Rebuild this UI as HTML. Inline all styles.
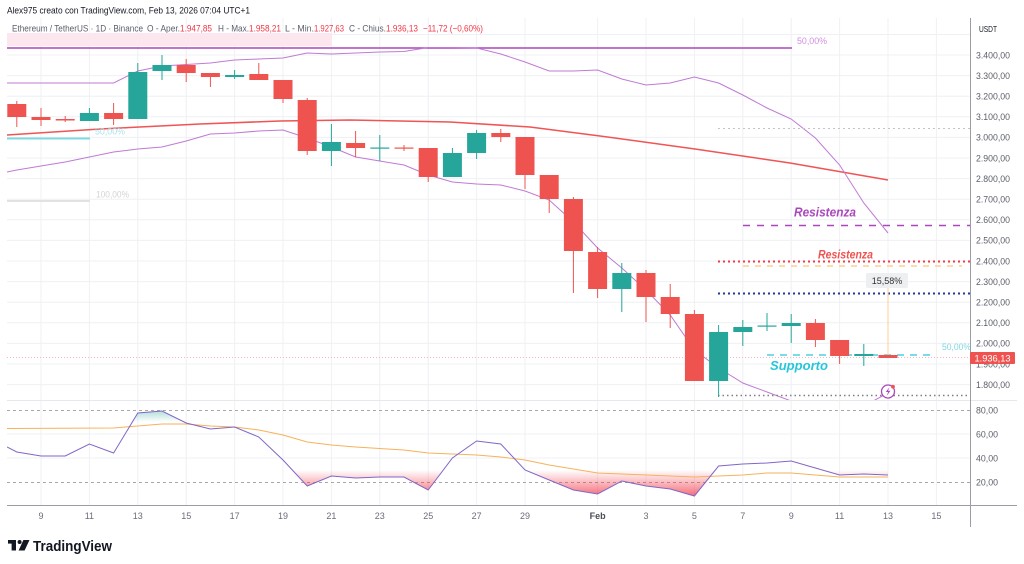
<!DOCTYPE html>
<html><head><meta charset="utf-8"><style>
html,body{margin:0;padding:0;background:#fff;}
svg{display:block;font-family:"Liberation Sans",Arial,sans-serif;}
</style></head><body>
<svg width="1024" height="564" viewBox="0 0 1024 564" xmlns="http://www.w3.org/2000/svg">
<defs>
<clipPath id="pp"><rect x="7" y="18" width="963" height="382"/></clipPath>
<clipPath id="rp"><rect x="7" y="401" width="963" height="104"/></clipPath>
<clipPath id="low"><rect x="7" y="470" width="963" height="36"/></clipPath>
<clipPath id="high"><rect x="7" y="380" width="963" height="42"/></clipPath>
<linearGradient id="gr" gradientUnits="userSpaceOnUse" x1="0" y1="470" x2="0" y2="506"><stop offset="0" stop-color="#f23645" stop-opacity="0"/><stop offset="1" stop-color="#f23645" stop-opacity="1"/></linearGradient>
<linearGradient id="gg" gradientUnits="userSpaceOnUse" x1="0" y1="422" x2="0" y2="386"><stop offset="0" stop-color="#089981" stop-opacity="0"/><stop offset="1" stop-color="#089981" stop-opacity="1"/></linearGradient>
</defs>
<rect width="1024" height="564" fill="#fff"/>

<!-- grid -->
<g stroke="#eef0f4" stroke-width="1">
<line x1="7" x2="970" y1="34.5" y2="34.5"/>
<line x1="7" x2="970" y1="55" y2="55"/><line x1="7" x2="970" y1="75.6" y2="75.6"/><line x1="7" x2="970" y1="96.2" y2="96.2"/><line x1="7" x2="970" y1="116.8" y2="116.8"/><line x1="7" x2="970" y1="137.4" y2="137.4"/><line x1="7" x2="970" y1="158" y2="158"/><line x1="7" x2="970" y1="178.6" y2="178.6"/><line x1="7" x2="970" y1="199.2" y2="199.2"/><line x1="7" x2="970" y1="219.8" y2="219.8"/><line x1="7" x2="970" y1="240.4" y2="240.4"/><line x1="7" x2="970" y1="261" y2="261"/><line x1="7" x2="970" y1="281.6" y2="281.6"/><line x1="7" x2="970" y1="302.2" y2="302.2"/><line x1="7" x2="970" y1="322.8" y2="322.8"/><line x1="7" x2="970" y1="343.4" y2="343.4"/><line x1="7" x2="970" y1="364" y2="364"/><line x1="7" x2="970" y1="384.6" y2="384.6"/>
<line x1="7" x2="970" y1="434" y2="434"/><line x1="7" x2="970" y1="458" y2="458"/>
<line x1="41" x2="41" y1="18" y2="505"/><line x1="89.4" x2="89.4" y1="18" y2="505"/><line x1="137.8" x2="137.8" y1="18" y2="505"/><line x1="186.2" x2="186.2" y1="18" y2="505"/><line x1="234.6" x2="234.6" y1="18" y2="505"/><line x1="283" x2="283" y1="18" y2="505"/><line x1="331.4" x2="331.4" y1="18" y2="505"/><line x1="379.8" x2="379.8" y1="18" y2="505"/><line x1="428.2" x2="428.2" y1="18" y2="505"/><line x1="476.6" x2="476.6" y1="18" y2="505"/><line x1="525" x2="525" y1="18" y2="505"/><line x1="597.6" x2="597.6" y1="18" y2="505"/><line x1="646" x2="646" y1="18" y2="505"/><line x1="694.4" x2="694.4" y1="18" y2="505"/><line x1="742.8" x2="742.8" y1="18" y2="505"/><line x1="791.2" x2="791.2" y1="18" y2="505"/><line x1="839.6" x2="839.6" y1="18" y2="505"/><line x1="888" x2="888" y1="18" y2="505"/><line x1="936.4" x2="936.4" y1="18" y2="505"/>
</g>
<line x1="7" x2="1017" y1="400.5" y2="400.5" stroke="#e6e8ee" stroke-width="1"/>

<!-- header -->
<text x="7" y="13.5" font-size="9" fill="#131722" textLength="243" lengthAdjust="spacingAndGlyphs">Alex975 creato con TradingView.com, Feb 13, 2026 07:04 UTC+1</text>
<g font-size="8.8" lengthAdjust="spacingAndGlyphs">
<text x="12" y="31.5" fill="#5d606b" textLength="131" lengthAdjust="spacingAndGlyphs">Ethereum / TetherUS · 1D · Binance</text>
<text x="147" y="31.5" fill="#5d606b" textLength="33" lengthAdjust="spacingAndGlyphs">O - Aper.</text>
<text x="180" y="31.5" fill="#f23645" textLength="32" lengthAdjust="spacingAndGlyphs">1.947,85</text>
<text x="218" y="31.5" fill="#5d606b" textLength="31" lengthAdjust="spacingAndGlyphs">H - Max.</text>
<text x="249" y="31.5" fill="#f23645" textLength="32" lengthAdjust="spacingAndGlyphs">1.958,21</text>
<text x="285" y="31.5" fill="#5d606b" textLength="29" lengthAdjust="spacingAndGlyphs">L - Min.</text>
<text x="314" y="31.5" fill="#f23645" textLength="30" lengthAdjust="spacingAndGlyphs">1.927,63</text>
<text x="349" y="31.5" fill="#5d606b" textLength="37" lengthAdjust="spacingAndGlyphs">C - Chius.</text>
<text x="386" y="31.5" fill="#f23645" textLength="32" lengthAdjust="spacingAndGlyphs">1.936,13</text>
<text x="423" y="31.5" fill="#f23645" textLength="60" lengthAdjust="spacingAndGlyphs">−11,72 (−0,60%)</text>
</g>

<g clip-path="url(#pp)">
<rect x="7" y="33" width="325" height="13" fill="#fde7ee"/>
<line x1="7" x2="792" y1="48" y2="48" stroke="#ab47bc" stroke-width="1.5"/>
<line x1="7" x2="90" y1="138.5" y2="138.5" stroke="#80d8e0" stroke-width="2"/>
<line x1="7" x2="90" y1="201" y2="201" stroke="#e2e2e2" stroke-width="2"/>
<!-- red MA -->
<polyline fill="none" stroke="#f05454" stroke-width="1.5" points="7,135 100,129 200,124 280,121 350,120 450,122 530,127 600,136 695,149 790,163 888,180"/>
<!-- upper band -->
<polyline fill="none" stroke="#c07ad4" stroke-width="1" points="7,83 113.6,83 137.8,71 162,66 186.2,64.5 210.4,63 234.6,60 258.8,59 283,58 307.2,53 331.4,54 355.6,53 379.8,52 404,51.5 428.2,47.5 452.4,47.5 476.6,48 500.8,54 525,62 549.2,71 573.4,71 597.6,70 621.8,79 646,85 670.2,83 694.4,77 718.6,83 742.8,95 767,108 791.2,119 815.4,138 839.6,165 863.8,203 888,233"/>
<!-- lower band -->
<polyline fill="none" stroke="#c07ad4" stroke-width="1" points="7,172 16.8,170 41,166 65.2,162 89.4,157 113.6,152 137.8,149 162,147 186.2,141 210.4,134 234.6,133 258.8,131 283,130 307.2,138 331.4,147 355.6,157 379.8,161 404,165 428.2,175 452.4,182 476.6,184 500.8,185 525,191 549.2,200 573.4,222 597.6,248 621.8,268 646,290 670.2,315 694.4,350 718.6,368 742.8,383 767,392 791.2,401 815.4,410 839.6,415 863.8,406 888,393"/>
<!-- right side lines -->
<line x1="718" x2="970" y1="128.5" y2="128.5" stroke="#c4c4c4" stroke-width="1" stroke-dasharray="2,3"/>
<line x1="743" x2="970" y1="225.5" y2="225.5" stroke="#ab47bc" stroke-width="1.5" stroke-dasharray="7,7"/>
<line x1="718" x2="970" y1="261.5" y2="261.5" stroke="#ef3a4a" stroke-width="2" stroke-dasharray="2,3"/>
<line x1="743" x2="962" y1="266" y2="266" stroke="#ffd08a" stroke-width="1.5" stroke-dasharray="6,6"/>
<line x1="718" x2="970" y1="293.5" y2="293.5" stroke="#1e3a9a" stroke-width="2" stroke-dasharray="2,3"/>
<line x1="7" x2="970" y1="357.5" y2="357.5" stroke="#f7b3c0" stroke-width="1" stroke-dasharray="1,2"/>
<line x1="767" x2="933" y1="355" y2="355" stroke="#4dd0e1" stroke-width="1.5" stroke-dasharray="7,6"/>
<line x1="718" x2="970" y1="395.5" y2="395.5" stroke="#7d7f88" stroke-width="1.5" stroke-dasharray="1.5,3"/>
<line x1="888" x2="888" y1="288" y2="356" stroke="#ffcf94" stroke-width="1"/>
<!-- candles -->
<g fill="#ef5350" stroke="#ef5350" stroke-width="1">
<line x1="16.8" x2="16.8" y1="101" y2="127"/><rect x="7.3" y="104" width="19" height="13" stroke="none"/>
<line x1="41" x2="41" y1="108" y2="126"/><rect x="31.5" y="117" width="19" height="3" stroke="none"/>
<line x1="65.2" x2="65.2" y1="116" y2="122"/><rect x="55.7" y="119" width="19" height="1.5" stroke="none"/>
<line x1="113.6" x2="113.6" y1="103" y2="125"/><rect x="104.1" y="113" width="19" height="6" stroke="none"/>
<line x1="186.2" x2="186.2" y1="59" y2="82"/><rect x="176.7" y="65" width="19" height="8" stroke="none"/>
<line x1="210.4" x2="210.4" y1="73" y2="87"/><rect x="200.9" y="73" width="19" height="4" stroke="none"/>
<line x1="258.8" x2="258.8" y1="63" y2="80"/><rect x="249.3" y="74" width="19" height="6" stroke="none"/>
<line x1="283" x2="283" y1="80" y2="103"/><rect x="273.5" y="80" width="19" height="19" stroke="none"/>
<line x1="307.2" x2="307.2" y1="98" y2="155"/><rect x="297.7" y="100" width="19" height="51" stroke="none"/>
<line x1="355.6" x2="355.6" y1="131" y2="157"/><rect x="346.1" y="143" width="19" height="5" stroke="none"/>
<line x1="404" x2="404" y1="145" y2="151"/><rect x="394.5" y="147.5" width="19" height="1.2" stroke="none"/>
<line x1="428.2" x2="428.2" y1="148" y2="182"/><rect x="418.7" y="148" width="19" height="29" stroke="none"/>
<line x1="500.8" x2="500.8" y1="129" y2="142"/><rect x="491.3" y="133" width="19" height="4" stroke="none"/>
<line x1="525" x2="525" y1="137" y2="189"/><rect x="515.5" y="137" width="19" height="38" stroke="none"/>
<line x1="549.2" x2="549.2" y1="175" y2="213"/><rect x="539.7" y="175" width="19" height="24" stroke="none"/>
<line x1="573.4" x2="573.4" y1="197" y2="293"/><rect x="563.9" y="199" width="19" height="52" stroke="none"/>
<line x1="597.6" x2="597.6" y1="247" y2="298"/><rect x="588.1" y="252" width="19" height="37" stroke="none"/>
<line x1="646" x2="646" y1="270" y2="322"/><rect x="636.5" y="273" width="19" height="24" stroke="none"/>
<line x1="670.2" x2="670.2" y1="284" y2="328"/><rect x="660.7" y="297" width="19" height="17" stroke="none"/>
<line x1="694.4" x2="694.4" y1="310" y2="381"/><rect x="684.9" y="314" width="19" height="67" stroke="none"/>
<line x1="815.4" x2="815.4" y1="319" y2="347"/><rect x="805.9" y="323" width="19" height="17" stroke="none"/>
<line x1="839.6" x2="839.6" y1="340" y2="364"/><rect x="830.1" y="340" width="19" height="16" stroke="none"/>
<line x1="888" x2="888" y1="355" y2="358"/><rect x="878.5" y="355" width="19" height="3" stroke="none"/>
</g>
<g fill="#26a69a" stroke="#26a69a" stroke-width="1">
<line x1="89.4" x2="89.4" y1="108" y2="121"/><rect x="79.9" y="113" width="19" height="8" stroke="none"/>
<line x1="137.8" x2="137.8" y1="63" y2="119"/><rect x="128.3" y="72" width="19" height="47" stroke="none"/>
<line x1="162" x2="162" y1="55" y2="80"/><rect x="152.5" y="65" width="19" height="6" stroke="none"/>
<line x1="234.6" x2="234.6" y1="70" y2="79"/><rect x="225.1" y="75" width="19" height="2" stroke="none"/>
<line x1="331.4" x2="331.4" y1="124" y2="166"/><rect x="321.9" y="142" width="19" height="9" stroke="none"/>
<line x1="379.8" x2="379.8" y1="135" y2="161"/><rect x="370.3" y="147.5" width="19" height="1.2" stroke="none"/>
<line x1="452.4" x2="452.4" y1="148" y2="177"/><rect x="442.9" y="153" width="19" height="24" stroke="none"/>
<line x1="476.6" x2="476.6" y1="130" y2="159"/><rect x="467.1" y="133" width="19" height="20" stroke="none"/>
<line x1="621.8" x2="621.8" y1="263" y2="312"/><rect x="612.3" y="273" width="19" height="16" stroke="none"/>
<line x1="718.6" x2="718.6" y1="325" y2="397"/><rect x="709.1" y="332" width="19" height="49" stroke="none"/>
<line x1="742.8" x2="742.8" y1="320" y2="346"/><rect x="733.3" y="327" width="19" height="5" stroke="none"/>
<line x1="767" x2="767" y1="313" y2="331"/><rect x="757.5" y="325.5" width="19" height="1.2" stroke="none"/>
<line x1="791.2" x2="791.2" y1="314" y2="343"/><rect x="781.7" y="323" width="19" height="3" stroke="none"/>
<line x1="863.8" x2="863.8" y1="344" y2="366"/><rect x="854.3" y="354" width="19" height="2" stroke="none"/>
</g>
<!-- labels on chart -->
<text x="797" y="44" font-size="9" fill="#cf8fe0" textLength="30" lengthAdjust="spacingAndGlyphs">50,00%</text>
<text x="95" y="134.5" font-size="9" fill="#a8e4ec" textLength="30" lengthAdjust="spacingAndGlyphs">50,00%</text>
<text x="96" y="197.5" font-size="9" fill="#d4d4d4" textLength="33" lengthAdjust="spacingAndGlyphs">100,00%</text>
<text x="942" y="350" font-size="9" fill="#7fd8e4" textLength="29" lengthAdjust="spacingAndGlyphs">50,00%</text>
<text x="794" y="216.5" font-size="12.5" font-weight="bold" font-style="italic" fill="#ab47bc" textLength="62" lengthAdjust="spacingAndGlyphs">Resistenza</text>
<text x="818" y="258.5" font-size="11.5" font-weight="bold" font-style="italic" fill="#ef5350" textLength="55" lengthAdjust="spacingAndGlyphs">Resistenza</text>
<text x="770" y="370" font-size="12.5" font-weight="bold" font-style="italic" fill="#26c6da" textLength="58" lengthAdjust="spacingAndGlyphs">Supporto</text>
<rect x="866" y="273" width="42" height="15" rx="2" fill="#eeeff1"/>
<text x="887" y="284" font-size="9" fill="#333" text-anchor="middle">15,58%</text>
<!-- lightning icon -->
<circle cx="888" cy="391.5" r="6.5" fill="#fff" stroke="#ab47bc" stroke-width="1.3"/>
<path d="M889.5,387 L885.8,392 L888.2,392 L886.6,396 L890.4,390.8 L888,390.8 Z" fill="#ab47bc"/>
<circle cx="893" cy="386.8" r="1.9" fill="#ef5350"/>
</g>

<!-- RSI pane -->
<g clip-path="url(#rp)">
<line x1="7" x2="970" y1="410.5" y2="410.5" stroke="#a8a8a8" stroke-width="1" stroke-dasharray="3,3"/>
<line x1="7" x2="970" y1="482.5" y2="482.5" stroke="#a8a8a8" stroke-width="1" stroke-dasharray="3,3"/>
<path clip-path="url(#low)" fill="url(#gr)" d="M7,446 L7,447 16.8,452 41,456 65.2,456 89.4,444 113.6,453 137.8,413 162,411 186.2,423 210.4,429 234.6,427 258.8,437 283,460 307.2,486 331.4,476 355.6,478 379.8,477 404,477 428.2,490 452.4,458 476.6,441 500.8,444 525,470 549.2,480 573.4,490 597.6,494 621.8,481 646,486 670.2,489 694.4,496 718.6,466 742.8,464 767,463 791.2,461 815.4,468 839.6,475 863.8,474 888,475 L888,446 Z"/>
<path clip-path="url(#high)" fill="url(#gg)" d="M7,446 L7,447 16.8,452 41,456 65.2,456 89.4,444 113.6,453 137.8,413 162,411 186.2,423 210.4,429 234.6,427 258.8,437 283,460 L283,446 Z"/>
<polyline fill="none" stroke="#f7b25a" stroke-width="1" points="7,428.5 113.6,428 137.8,426 162,424 186.2,424 210.4,426 234.6,427 258.8,430 283,435 307.2,442 331.4,445 355.6,447 379.8,448.5 404,450 428.2,453 452.4,454 476.6,455 500.8,457 525,460 549.2,465 573.4,469 597.6,473 621.8,474 646,475 670.2,476 694.4,477 718.6,476 742.8,475 767,473 791.2,473 815.4,475 839.6,477 863.8,477 888,477"/>
<polyline fill="none" stroke="#8166c8" stroke-width="1" points="7,447 16.8,452 41,456 65.2,456 89.4,444 113.6,453 137.8,413 162,411 186.2,423 210.4,429 234.6,427 258.8,437 283,460 307.2,486 331.4,476 355.6,478 379.8,477 404,477 428.2,490 452.4,458 476.6,441 500.8,444 525,470 549.2,480 573.4,490 597.6,494 621.8,481 646,486 670.2,489 694.4,496 718.6,466 742.8,464 767,463 791.2,461 815.4,468 839.6,475 863.8,474 888,475"/>
</g>

<!-- axes -->
<line x1="970.5" x2="970.5" y1="18" y2="527" stroke="#9a9da6" stroke-width="1"/>
<line x1="7" x2="1017" y1="505.5" y2="505.5" stroke="#9a9da6" stroke-width="1"/>
<text x="979" y="32" font-size="8.5" fill="#131722" textLength="18" lengthAdjust="spacingAndGlyphs">USDT</text>
<g font-size="9" fill="#5d606b">
<text x="976" y="58.3" textLength="34" lengthAdjust="spacingAndGlyphs">3.400,00</text>
<text x="976" y="78.9" textLength="34" lengthAdjust="spacingAndGlyphs">3.300,00</text>
<text x="976" y="99.5" textLength="34" lengthAdjust="spacingAndGlyphs">3.200,00</text>
<text x="976" y="120.1" textLength="34" lengthAdjust="spacingAndGlyphs">3.100,00</text>
<text x="976" y="140.7" textLength="34" lengthAdjust="spacingAndGlyphs">3.000,00</text>
<text x="976" y="161.3" textLength="34" lengthAdjust="spacingAndGlyphs">2.900,00</text>
<text x="976" y="181.9" textLength="34" lengthAdjust="spacingAndGlyphs">2.800,00</text>
<text x="976" y="202.5" textLength="34" lengthAdjust="spacingAndGlyphs">2.700,00</text>
<text x="976" y="223.1" textLength="34" lengthAdjust="spacingAndGlyphs">2.600,00</text>
<text x="976" y="243.7" textLength="34" lengthAdjust="spacingAndGlyphs">2.500,00</text>
<text x="976" y="264.3" textLength="34" lengthAdjust="spacingAndGlyphs">2.400,00</text>
<text x="976" y="284.9" textLength="34" lengthAdjust="spacingAndGlyphs">2.300,00</text>
<text x="976" y="305.5" textLength="34" lengthAdjust="spacingAndGlyphs">2.200,00</text>
<text x="976" y="326.1" textLength="34" lengthAdjust="spacingAndGlyphs">2.100,00</text>
<text x="976" y="346.7" textLength="34" lengthAdjust="spacingAndGlyphs">2.000,00</text>
<text x="976" y="367.3" textLength="34" lengthAdjust="spacingAndGlyphs">1.900,00</text>
<text x="976" y="387.9" textLength="34" lengthAdjust="spacingAndGlyphs">1.800,00</text>
<text x="976" y="413.3" textLength="22" lengthAdjust="spacingAndGlyphs">80,00</text>
<text x="976" y="437.3" textLength="22" lengthAdjust="spacingAndGlyphs">60,00</text>
<text x="976" y="461.3" textLength="22" lengthAdjust="spacingAndGlyphs">40,00</text>
<text x="976" y="485.3" textLength="22" lengthAdjust="spacingAndGlyphs">20,00</text>
</g>
<rect x="970" y="352" width="45" height="12" rx="1" fill="#ef5350"/>
<text x="974.5" y="361.3" font-size="9" fill="#fff" textLength="36" lengthAdjust="spacingAndGlyphs">1.936,13</text>

<g font-size="9" fill="#6a6d78" text-anchor="middle">
<text x="41" y="519">9</text><text x="89.4" y="519">11</text><text x="137.8" y="519">13</text><text x="186.2" y="519">15</text><text x="234.6" y="519">17</text><text x="283" y="519">19</text><text x="331.4" y="519">21</text><text x="379.8" y="519">23</text><text x="428.2" y="519">25</text><text x="476.6" y="519">27</text><text x="525" y="519">29</text>
<text x="597.6" y="519" font-weight="bold" fill="#4a4d56">Feb</text>
<text x="646" y="519">3</text><text x="694.4" y="519">5</text><text x="742.8" y="519">7</text><text x="791.2" y="519">9</text><text x="839.6" y="519">11</text><text x="888" y="519">13</text><text x="936.4" y="519">15</text>
</g>

<!-- logo -->
<g fill="#131722">
<rect x="8" y="540" width="8" height="3.6"/>
<rect x="11.6" y="540" width="4.4" height="10.5"/>
<circle cx="19.6" cy="542" r="2"/>
<polygon points="23.4,540 29.5,540 24.6,550.5 18.6,550.5"/>
</g>
<text x="33" y="551" font-size="14.5" font-weight="bold" fill="#131722" textLength="79" lengthAdjust="spacingAndGlyphs">TradingView</text>
</svg>
</body></html>
